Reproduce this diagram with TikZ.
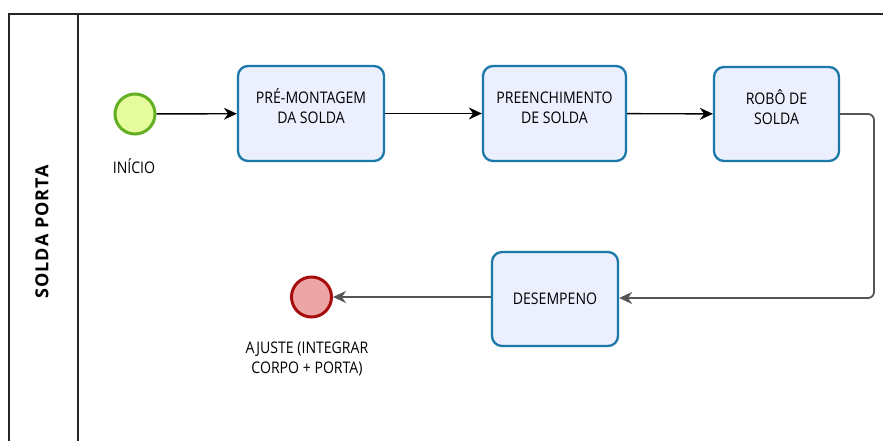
\documentclass[tikz,border=0pt]{standalone}
\usepackage{fontspec}
\setmainfont{Open Sans}
\newfontfamily\condfont[FakeStretch=0.88]{Open Sans}
\newfontfamily\lanefont[LetterSpace=6]{Open Sans}
\usetikzlibrary{arrows.meta}
\definecolor{taskfill}{HTML}{EBEFFE}
\definecolor{taskline}{HTML}{1B78A8}
\definecolor{startfill}{HTML}{E5FC9C}
\definecolor{startline}{HTML}{63AF22}
\definecolor{endfill}{HTML}{EDA6A6}
\definecolor{endline}{HTML}{A80D0D}
\definecolor{flowgray}{HTML}{555555}
\newcommand\tasklines[1]{\raisebox{4pt}[\height][\depth]{\begin{tabular}{@{}c@{}}#1\end{tabular}}}
\begin{document}
\begin{tikzpicture}[x=1pt,y=-1pt,
  task/.style={draw=taskline, fill=taskfill, line width=2.3pt, rounded corners=10pt,
    minimum width=146pt, minimum height=95pt, align=center, font=\condfont\fontsize{16}{20}\selectfont, inner sep=0pt},
  evstart/.style={circle, draw=startline, fill=startfill, line width=3pt, minimum size=40pt, inner sep=0pt},
  evend/.style={circle, draw=endline, fill=endfill, line width=3pt, minimum size=40pt, inner sep=0pt},
  lbl/.style={align=center, font=\condfont\fontsize{16}{20}\selectfont, inner sep=0pt},
  flow/.style={draw=black, line width=1.4pt, -{Stealth[length=13pt,width=12pt]}},
  flowg/.style={draw=flowgray, line width=1.8pt, rounded corners=6pt, -{Stealth[length=13pt,width=12pt]}}]
\useasboundingbox (0,0) rectangle (883,440);
\fill[white] (0,0) rectangle (883,440);
% pool
\draw[line width=1.4pt, draw=black!85] (9,441) -- (9,14) -- (884,14);
\draw[line width=1.4pt, draw=black!85] (78,14) -- (78,441);
\node[rotate=90, font=\lanefont\bfseries\fontsize{18}{20}\selectfont] (lane) at (42,232) {SOLDA PORTA};
% nodes
\node[evstart] (start) at (135,114) {};
\node[lbl] (startl) at (134,166) {INÍCIO};
\node[task, minimum width=146pt] (t1) at (311,113.5) {\tasklines{PRÉ-MONTAGEM\\DA SOLDA}};
\node[task, minimum width=143pt] (t2) at (554.5,113.5) {\tasklines{PREENCHIMENTO\\DE SOLDA}};
\node[task, minimum width=125pt, minimum height=94pt] (t3) at (776.5,114) {\tasklines{ROBÔ DE\\SOLDA}};
\node[task, minimum width=126pt, minimum height=94pt] (t4) at (555,299) {DESEMPENO};
\node[evend] (end) at (311.5,297) {};
\node[lbl] (endl) at (307,359) {AJUSTE (INTEGRAR\\CORPO + PORTA)};
% flows
\draw[flow] (start) -- (t1);
\draw[flow] (t1) -- (t2);
\draw[flow] (t2) -- (t3);
\coordinate (c1) at (874,114);
\coordinate (c2) at (874,298);
\draw[flowg] (t3.east) -- (c1) -- (c2) -- (t4.east |- c2);
\draw[flowg] (t4.west |- end) -- (end);
\end{tikzpicture}
\end{document}
